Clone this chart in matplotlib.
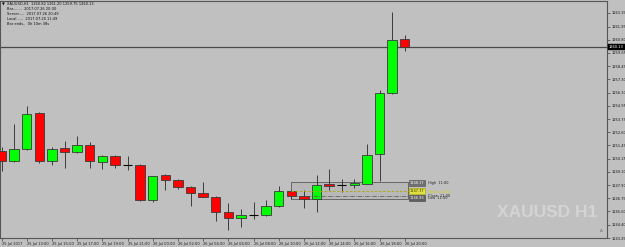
import matplotlib.pyplot as plt
from matplotlib.patches import Rectangle

# XAUUSD H1 bars, 25 Jul 11:00 .. 26 Jul 20:00
opens = [1250.97, 1250.02, 1251.11, 1254.29, 1250.06, 1251.20, 1250.85, 1251.49, 1249.97, 1250.52,
         1249.70, 1249.73, 1246.64, 1248.82, 1248.38, 1247.72, 1247.23, 1246.90, 1245.55, 1245.02,
         1245.25, 1245.25, 1246.05, 1247.43, 1246.93, 1246.70, 1248.02, 1247.96, 1247.94, 1248.05,
         1250.67, 1256.06, 1260.82]
highs = [1251.34, 1253.32, 1254.88, 1254.35, 1251.34, 1251.79, 1252.29, 1251.70, 1250.61, 1250.61,
         1250.52, 1249.82, 1248.76, 1248.87, 1248.47, 1247.81, 1248.17, 1246.97, 1246.37, 1245.82,
         1246.44, 1246.64, 1247.81, 1247.52, 1247.46, 1248.85, 1249.38, 1248.47, 1248.49, 1251.58,
         1256.35, 1263.21, 1261.20]
lows = [1249.20, 1249.93, 1250.99, 1249.88, 1249.67, 1249.44, 1250.76, 1249.44, 1249.38, 1249.44,
        1249.22, 1246.49, 1246.40, 1247.52, 1247.58, 1246.05, 1246.84, 1244.72, 1243.99, 1244.19,
        1244.93, 1245.16, 1245.99, 1246.70, 1245.93, 1245.58, 1247.52, 1247.28, 1247.67, 1248.00,
        1248.25, 1256.00, 1259.75]
closes = [1250.02, 1251.14, 1254.21, 1250.02, 1251.14, 1250.85, 1251.47, 1250.02, 1250.52, 1249.70,
          1249.70, 1246.64, 1248.73, 1248.34, 1247.72, 1247.23, 1246.90, 1245.55, 1245.02, 1245.25,
          1245.25, 1246.05, 1247.43, 1246.93, 1246.70, 1247.96, 1247.87, 1247.96, 1248.11, 1250.61,
          1256.06, 1260.74, 1260.13]

time_labels = ["25 Jul 2017", "25 Jul 13:00", "25 Jul 15:00", "25 Jul 17:00", "25 Jul 19:00",
               "25 Jul 21:00", "26 Jul 00:00", "26 Jul 02:00", "26 Jul 04:00", "26 Jul 06:00",
               "26 Jul 08:00", "26 Jul 10:00", "26 Jul 12:00", "26 Jul 14:00", "26 Jul 16:00",
               "26 Jul 18:00", "26 Jul 20:00"]
price_labels = ["1263.15", "1261.95", "1260.80", "1259.65", "1258.45", "1257.30", "1256.10",
                "1254.95", "1253.75", "1252.60", "1251.45", "1250.25", "1249.10", "1247.90",
                "1246.75", "1245.60", "1244.40", "1243.25"]

info_lines = ["XAUUSD,H1  1260.82 1261.20 1259.75 1260.13",
              "Bar........  2017.07.26 20:00",
              "Server.....  2017.07.26 20:49",
              "Local......  2017.07.26 11:49",
              "Bar ends..  0h 10m 38s"]

# range box tool (high/low of a selection)
box_lo, box_hi = 1246.70, 1248.17
box_mid, box_close = 1247.37, 1246.93

BG = "#c0c0c0"
plt.rcParams["font.family"] = ["DejaVu Sans"]

fig = plt.figure(figsize=(6.25, 2.47), dpi=100, facecolor=BG)
ax = fig.add_axes([0, 9 / 247, 607 / 625, 237 / 247], facecolor=BG)

n = len(opens)
idx = list(range(n))
w = 0.75
for i in idx:
    o, h, l, c = opens[i], highs[i], lows[i], closes[i]
    ax.vlines(i, l, h, color="#3c3c3c", lw=0.7, zorder=2)
    if abs(c - o) < 0.005:
        ax.hlines(c, i - w / 2, i + w / 2, color="black", lw=0.8, zorder=3)
    else:
        col = "#00ff00" if c > o else "#ff0000"
        ax.bar(i, abs(c - o), bottom=min(o, c), width=w, color=col,
               edgecolor="#3a3a3a", lw=0.6, zorder=3)

# range box
ax.add_patch(Rectangle((22.95, box_lo), 9.3, box_hi - box_lo, facecolor="#b8b8b8",
                       edgecolor="#5a5a5a", lw=0.6, zorder=1))
ax.hlines(box_mid, 22.95, 32.3, color="#b0a800", lw=0.6, ls=(0, (3, 2)), zorder=4)
ax.hlines(box_close, 22.95, 32.3, color="#505050", lw=0.5, ls="-.", zorder=4)
small = dict(fontsize=2.5, va="center", ha="center", zorder=6)
ax.text(32.95, box_hi - 0.05, "%.2f" % box_hi, color="white",
        bbox=dict(boxstyle="square,pad=0.25", fc="#707070", ec="#505050", lw=0.4), **small)
ax.text(32.95, box_mid + 0.05, "%.2f" % box_mid, color="#303000",
        bbox=dict(boxstyle="square,pad=0.25", fc="#e0e040", ec="#a0a000", lw=0.4), **small)
ax.text(32.95, box_close - 0.12, "%.2f" % box_close, color="white",
        bbox=dict(boxstyle="square,pad=0.25", fc="#606060", ec="#404040", lw=0.4), **small)
side = dict(fontsize=2.5, va="center", ha="left", zorder=6)
ax.text(33.85, box_hi - 0.05, "High  11:00", color="#202020", **side)
ax.text(33.85, box_mid - 0.05, "Open  12:00", color="#d8d800", **side)
ax.text(33.85, box_close + 0.05, "Close  11:00", color="#202020", **side)
ax.text(33.85, box_lo + 0.05, "Low  11:00", color="#202020", **side)

# current price line + label
ax.axhline(closes[-1], color="#4a4a4a", lw=0.9, zorder=1)
ax.text(1.003, closes[-1], "%.2f" % closes[-1], transform=ax.get_yaxis_transform(),
        fontsize=2.6, color="white", va="center", ha="left", zorder=7, clip_on=False,
        bbox=dict(boxstyle="square,pad=0.35", fc="black", ec="black", lw=0.3))

# watermark
ax.text(0.819, 0.088, "XAUUSD H1", transform=ax.transAxes, fontsize=12.5, fontweight="bold",
        family=["Liberation Sans", "DejaVu Sans"], color="#d4d4d4", ha="left",
        va="baseline", zorder=0)
ax.text(0.993, 0.02, "A", transform=ax.transAxes, fontsize=3, color="#707070", ha="right",
        va="bottom")

ax.set_xlim(-0.12, 48.05)
ax.set_ylim(1243.28, 1264.21)

ax.set_xticks(idx[::2])
ax.set_xticklabels(time_labels, fontsize=2.6, color="#1a1a1a", ha="left")
ax.tick_params(axis="x", length=2, width=0.5, pad=0.8, color="#404040")

ax.yaxis.tick_right()
ax.set_yticks([float(p) for p in price_labels])
ax.set_yticklabels(price_labels, fontsize=2.6, color="#1a1a1a")
ax.tick_params(axis="y", length=2, width=0.5, pad=1.2, color="#404040")

for s in ax.spines.values():
    s.set_color("#555555")
    s.set_linewidth(0.8)

for k, line in enumerate(info_lines):
    fig.text(7 / 625, 1 - (4 + 5 * k) / 247, line, fontsize=2.6, color="#101010",
             va="center", ha="left")
fig.text(2 / 625, 1 - 4 / 247, "\u25bc", fontsize=2.6, color="#101010", va="center", ha="left")

fig.savefig("out.png", dpi=100, facecolor=BG)
